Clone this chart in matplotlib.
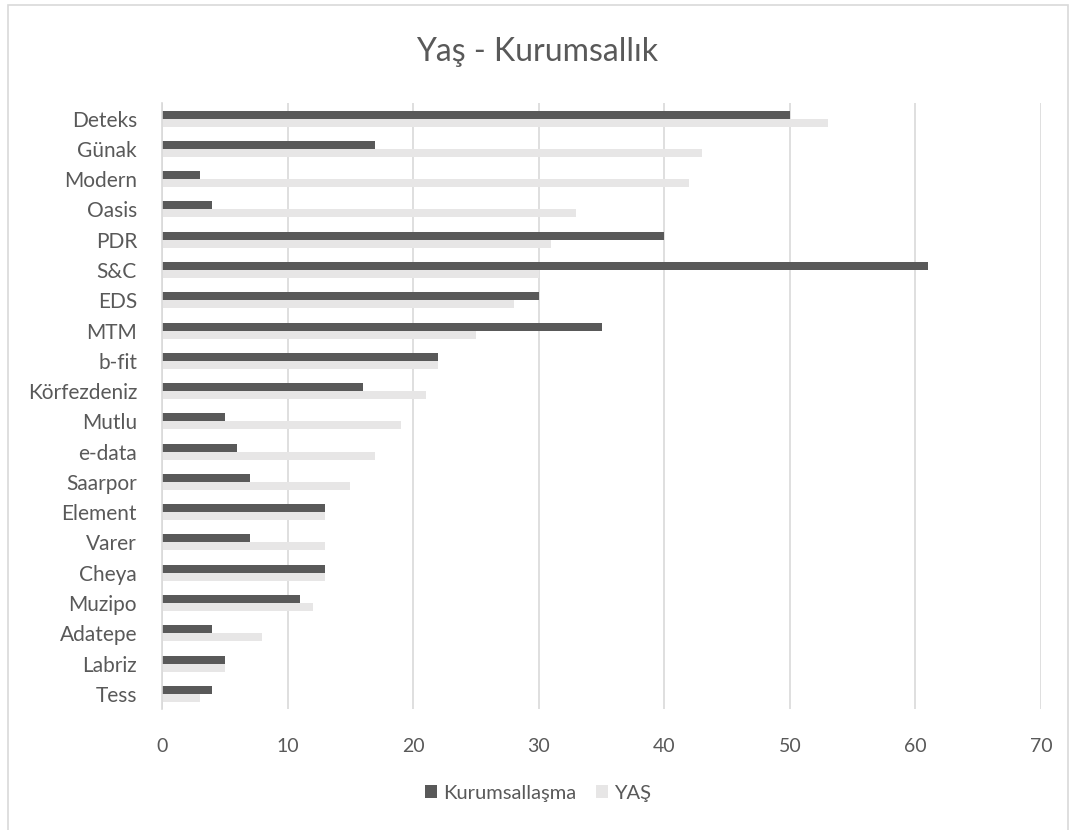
import matplotlib
matplotlib.use("Agg")
import matplotlib.pyplot as plt
from matplotlib.patches import Rectangle
import numpy as np

categories = ["Deteks", "Günak", "Modern", "Oasis", "PDR", "S&C", "EDS", "MTM", "b-fit",
              "Körfezdeniz", "Mutlu", "e-data", "Saarpor", "Element", "Varer", "Cheya",
              "Muzipo", "Adatepe", "Labriz", "Tess"]
kurumsallasma = [50, 17, 3, 4, 40, 61, 30, 35, 22, 16, 5, 6, 7, 13, 7, 13, 11, 4, 5, 4]
yas = [53, 43, 42, 33, 31, 30, 28, 25, 22, 21, 19, 17, 15, 13, 13, 13, 12, 8, 5, 3]
xticks = [0, 10, 20, 30, 40, 50, 60, 70]

plt.rcParams['font.family'] = ['Lato', 'DejaVu Sans']
txt = "#595959"
dark = "#595959"
light = "#e7e6e6"

fig = plt.figure(figsize=(10.75, 8.3), dpi=100)
W, H = 1075, 830
ax = fig.add_axes([162 / W, 1 - 709 / H, (1041 - 162) / W, (709 - 103.5) / H])

y = np.arange(len(categories))
h = 0.264
ax.barh(y - h / 2, kurumsallasma, height=h, color=dark, label="Kurumsallaşma", zorder=3)
ax.barh(y + h / 2, yas, height=h, color=light, label="YAŞ", zorder=3)

ax.set_ylim(len(categories) - 0.5, -0.5)
ax.set_xlim(0, 70)
ax.set_yticks(y)
ax.set_yticklabels(categories, fontsize=15, color=txt)
ax.set_xticks(xticks)
ax.set_xticklabels([str(t) for t in xticks], fontsize=14, color=txt)
ax.tick_params(axis='both', length=0)
ax.tick_params(axis='x', pad=21)
ax.tick_params(axis='y', pad=18)
ax.xaxis.grid(True, color="#d9d9d9", linewidth=1.2, zorder=0)
for s in ["top", "right", "bottom"]:
    ax.spines[s].set_visible(False)
ax.spines["left"].set_color("#d9d9d9")
ax.spines["left"].set_linewidth(1.2)
ax.spines["left"].set_zorder(4)

fig.text(0.5, 1 - 52 / H, "Yaş - Kurumsallık", ha="center", va="center", fontsize=23, color=txt)

leg = fig.legend(loc="center", bbox_to_anchor=(538 / W, 1 - 793 / H), ncol=2, frameon=False,
                 fontsize=14.5, handlelength=0.6, handleheight=0.6, handletextpad=0.3,
                 columnspacing=1.0, labelcolor=txt)

fig.patches.append(Rectangle((8 / W, -0.02), (1068 - 8) / W, (1 - 5 / H) + 0.02,
                             transform=fig.transFigure, fill=False, edgecolor="#d9d9d9",
                             linewidth=1.2))

fig.savefig("out.png", dpi=100, facecolor="white")
